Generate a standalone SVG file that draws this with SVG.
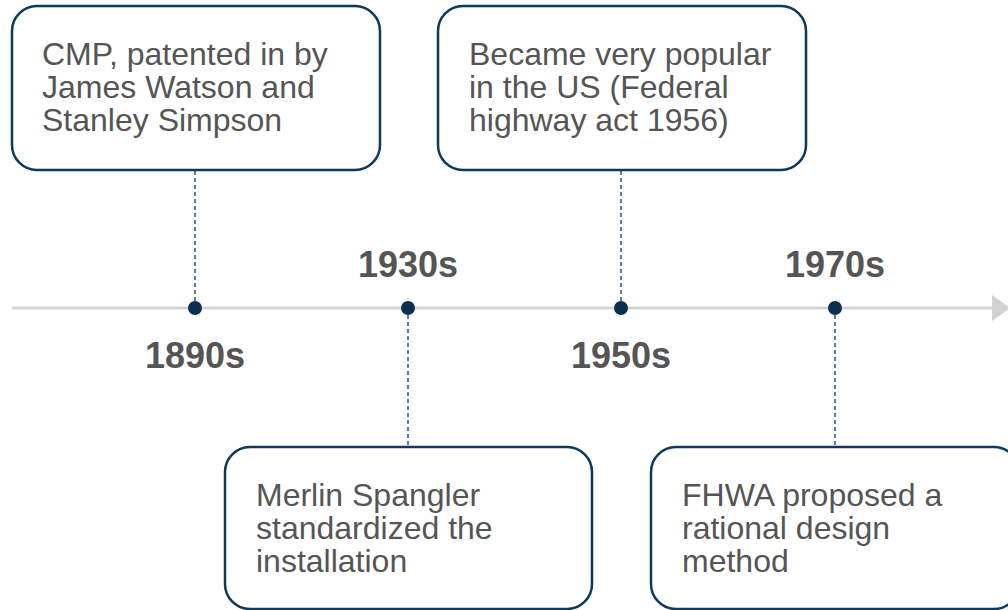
<svg xmlns="http://www.w3.org/2000/svg" width="1008" height="610" viewBox="0 0 1008 610">
<style>
.box{fill:#fff;stroke:#0e3a5a;stroke-width:2.5}
.t{font-family:"Liberation Sans",Arial,sans-serif;font-size:32px;fill:#555}
.y{font-family:"Liberation Sans",Arial,sans-serif;font-size:36px;font-weight:bold;fill:#555;text-anchor:middle}
.dash{stroke:#0e3a5a;stroke-width:1.3;stroke-dasharray:4,3;fill:none}
.dot{fill:#0d2f4f}
</style>
<rect width="1008" height="610" fill="#fff"/>
<g id="axis">
<line x1="12" y1="308" x2="994" y2="308" stroke="#d3d3d3" stroke-width="3"/>
<polygon points="992,295 1010,308 992,321" fill="#d3d3d3"/>
</g>
<g id="connectors">
<line class="dash" x1="195" y1="171" x2="195" y2="308"/>
<line class="dash" x1="408" y1="308" x2="408" y2="447"/>
<line class="dash" x1="621" y1="171" x2="621" y2="308"/>
<line class="dash" x1="835" y1="308" x2="835" y2="447"/>
</g>
<g id="dots">
<circle class="dot" cx="195" cy="308" r="7"/>
<circle class="dot" cx="408" cy="308" r="7"/>
<circle class="dot" cx="621" cy="308" r="7"/>
<circle class="dot" cx="835" cy="308" r="7"/>
</g>
<g id="n1890">
<rect class="box" x="12" y="6" width="368" height="164" rx="25"/>
<text class="t" x="42" y="65">CMP, patented in by</text>
<text class="t" x="42" y="98">James Watson and</text>
<text class="t" x="42" y="131">Stanley Simpson</text>
<text class="y" x="195" y="368">1890s</text>
</g>
<g id="n1930">
<rect class="box" x="225" y="447" width="367" height="162" rx="25"/>
<text class="t" x="256" y="506">Merlin Spangler</text>
<text class="t" x="256" y="539">standardized the</text>
<text class="t" x="256" y="572">installation</text>
<text class="y" x="408" y="277">1930s</text>
</g>
<g id="n1950">
<rect class="box" x="438" y="6" width="368" height="164" rx="25"/>
<text class="t" x="469" y="65">Became very popular</text>
<text class="t" x="469" y="98">in the US (Federal</text>
<text class="t" x="469" y="131">highway act 1956)</text>
<text class="y" x="621" y="368">1950s</text>
</g>
<g id="n1970">
<rect class="box" x="651" y="447" width="368" height="162" rx="25"/>
<text class="t" x="682" y="506">FHWA proposed a</text>
<text class="t" x="682" y="539">rational design</text>
<text class="t" x="682" y="572">method</text>
<text class="y" x="835" y="277">1970s</text>
</g>
</svg>
